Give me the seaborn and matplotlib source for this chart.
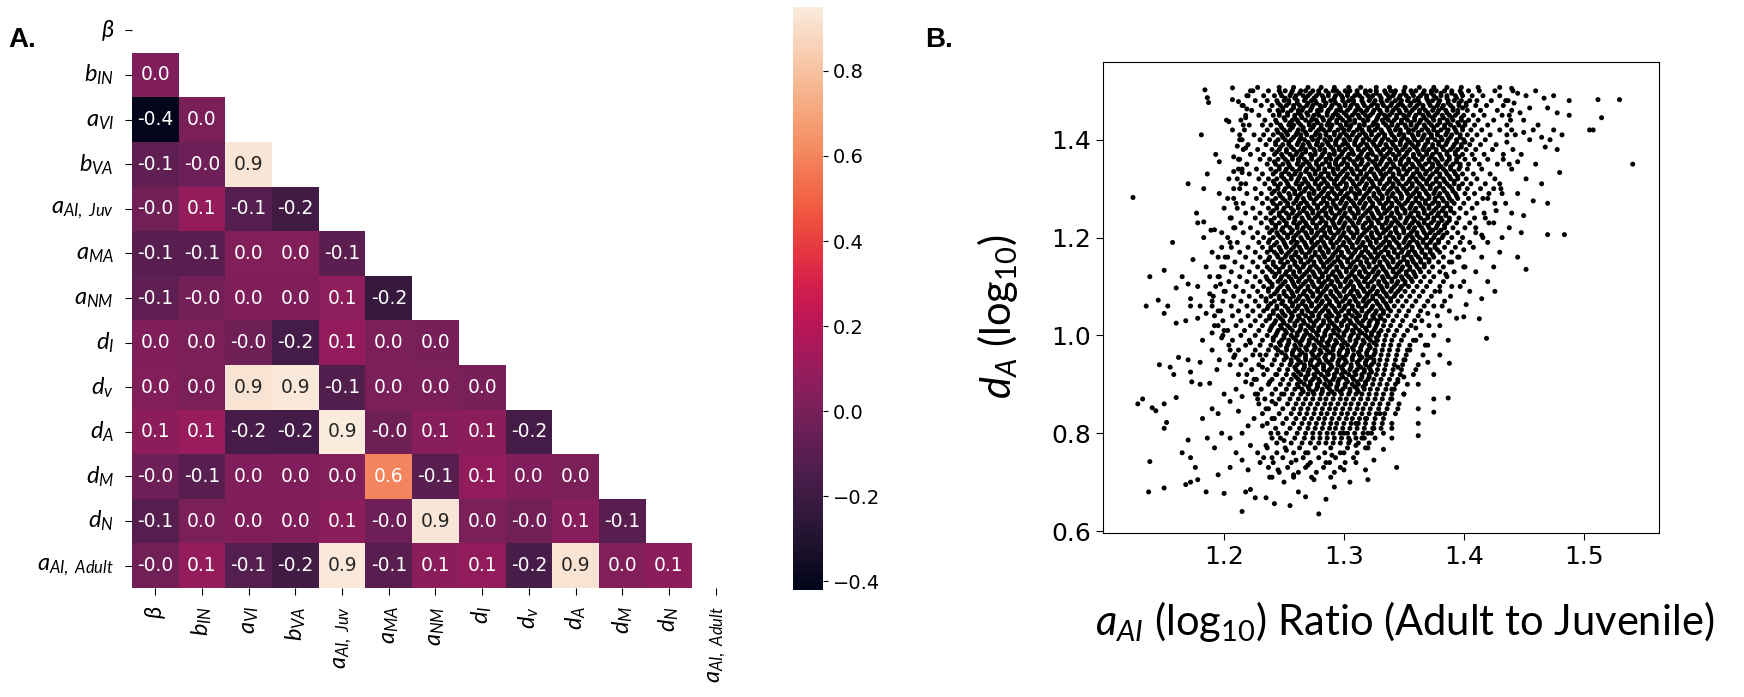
import numpy as np
import pandas as pd
import matplotlib
matplotlib.use("Agg")
import matplotlib.pyplot as plt
import seaborn as sns

plt.rcParams["mathtext.fontset"] = "custom"
plt.rcParams["mathtext.rm"] = "Lato"
plt.rcParams["mathtext.it"] = "Lato:italic"
plt.rcParams["mathtext.bf"] = "Lato:bold"

# ---------------- panel A: correlation of parameters ----------------
param_labels = [r"$\beta$", r"$b_{IN}$", r"$a_{VI}$", r"$b_{VA}$", r"$a_{AI,\ Juv}$",
                r"$a_{MA}$", r"$a_{NM}$", r"$d_{I}$", r"$d_{v}$", r"$d_{A}$",
                r"$d_{M}$", r"$d_{N}$", r"$a_{AI,\ Adult}$"]

# lower triangle, row by row (row i has i entries)
corr_lower = [
    [0.02],
    [-0.42, 0.01],
    [-0.08, -0.03, 0.93],
    [-0.02, 0.09, -0.12, -0.18],
    [-0.10, -0.10, 0.03, 0.03, -0.09],
    [-0.08, -0.01, 0.02, 0.02, 0.07, -0.22],
    [0.02, 0.01, -0.04, -0.17, 0.08, 0.01, 0.00],
    [0.03, 0.01, 0.92, 0.94, -0.13, 0.01, 0.01, 0.00],
    [0.06, 0.10, -0.16, -0.17, 0.95, -0.04, 0.05, 0.06, -0.17],
    [-0.03, -0.10, 0.02, 0.02, 0.03, 0.60, -0.10, 0.08, 0.02, 0.01],
    [-0.11, 0.01, 0.02, 0.02, 0.06, -0.03, 0.93, 0.01, -0.02, 0.05, -0.10],
    [-0.02, 0.09, -0.12, -0.18, 0.94, -0.10, 0.06, 0.08, -0.16, 0.92, 0.03, 0.06],
]

# ---------------- panel B: scatter of sampled parameters ----------------
# dense part of the cloud, one row per d_A level; ratio values in thousandths above 1
da_levels = [1.507, 1.50, 1.49, 1.48, 1.47, 1.46, 1.45, 1.44, 1.43, 1.42, 1.41, 1.40,
             1.39, 1.38, 1.37, 1.36, 1.35, 1.34, 1.33, 1.32, 1.31, 1.30, 1.29, 1.28,
             1.27, 1.26, 1.25, 1.24, 1.23, 1.22, 1.21, 1.20, 1.19, 1.18, 1.17, 1.16,
             1.15, 1.14, 1.13, 1.12, 1.11, 1.10, 1.09, 1.08, 1.07, 1.06, 1.05, 1.04,
             1.03, 1.02, 1.01, 1.00, 0.99, 0.98, 0.97, 0.96, 0.95, 0.94, 0.93, 0.92,
             0.91, 0.90, 0.89, 0.88, 0.87, 0.86, 0.85, 0.84, 0.83, 0.82, 0.81, 0.80,
             0.79, 0.78, 0.77, 0.76, 0.75, 0.74, 0.73, 0.72, 0.71]

ratio_rows = [
    [228,246,258,270,281,292,304,314,327,338,351,363,375,386,398,412,430],
    [224,237,246,251,257,264,268,274,279,285,291,294,301,305,311,318,322,327,334,339,343,350,356,360,367,373,377,384,390,397,404,413,426,441],
    [219,233,242,248,255,260,266,270,277,282,287,293,298,303,309,313,320,324,330,337,341,347,352,358,364,369,375,381,386,393,399,407,416,430],
    [226,236,244,250,254,261,267,273,276,283,289,292,299,304,308,315,321,326,331,336,343,348,353,359,362,370,374,380,387,392,398,405,411,423,437],
    [216,231,240,247,252,258,263,269,274,280,284,290,296,301,306,311,317,323,328,333,339,345,349,355,361,366,372,378,383,389,396,402,410,419,433],
    [223,238,245,249,256,262,265,272,278,281,287,294,297,303,310,314,319,325,330,336,341,346,352,357,363,368,374,379,385,391,395,403,414,428],
    [218,229,241,246,253,259,264,270,275,279,286,291,295,302,307,312,318,322,329,334,338,344,350,354,360,366,371,376,382,388,393,400,408,417,432],
    [214,234,243,251,257,261,268,273,277,283,288,294,299,305,309,316,320,327,332,337,342,348,353,359,364,369,375,380,386,391,398,404,412,425,439],
    [221,232,239,247,254,258,264,271,275,281,286,290,297,302,306,313,317,324,328,335,340,345,351,356,361,367,373,378,384,389,396,401,409,420],
    [217,236,244,250,255,262,266,272,279,283,288,295,300,304,311,315,321,326,331,338,343,347,354,358,365,370,375,381,387,393,399,406,415,430],
    [225,233,241,248,253,260,264,269,276,280,285,292,297,302,307,313,318,323,329,334,340,346,350,357,362,367,373,378,385,390,397,403,411,422,436],
    [213,230,238,245,251,256,263,267,274,278,284,289,294,300,305,310,316,321,326,332,337,343,348,353,359,365,370,376,382,387,394,400,407,418],
    [220,235,243,249,254,261,266,271,277,282,287,293,299,303,309,314,319,325,330,335,341,347,352,357,362,368,374,379,385,392,398,405,414,427],
    [216,228,240,246,252,258,264,268,275,280,284,291,296,301,306,312,317,322,328,333,339,344,349,355,361,366,371,377,383,389,395,402,410,424],
    [222,233,242,248,255,260,265,272,276,282,288,292,298,304,308,314,320,324,331,336,341,346,352,358,363,369,374,380,386,393,399,407,417,433],
    [212,230,238,245,251,257,262,267,273,279,285,289,294,300,305,311,315,321,327,332,338,343,348,354,360,365,371,376,382,388,394,401,409,420],
    [219,236,243,249,254,261,266,271,277,282,288,293,298,303,309,314,320,326,330,336,341,347,352,357,363,368,374,379,385,391,397,404,413,428],
    [215,227,239,246,252,257,263,269,274,279,284,291,295,301,306,311,317,323,328,333,339,345,350,355,361,366,372,378,383,389,396,403,415],
    [221,232,241,248,254,259,264,271,276,281,287,292,297,303,308,314,319,325,331,335,341,346,352,358,363,368,374,380,386,393,399,408,422],
    [211,229,237,244,250,256,262,267,273,278,283,289,294,300,305,311,316,321,327,332,338,343,349,355,360,366,371,377,383,389,395,402,411,426],
    [218,234,242,247,253,260,265,270,276,281,286,292,297,302,308,313,319,324,330,336,341,346,352,357,363,369,374,380,386,392,399,406,418],
    [213,226,238,245,251,257,263,268,273,279,284,290,295,301,306,311,317,322,328,333,339,344,350,355,361,366,372,377,383,390,396,403,414,431],
    [219,231,240,246,254,259,264,271,275,281,287,292,297,303,309,313,319,325,330,336,341,347,353,358,363,369,375,380,386,393,401,409,421],
    [208,227,236,243,249,255,261,266,272,277,283,288,294,299,304,310,316,321,327,332,337,343,348,354,360,365,371,376,382,388,395,404,416],
    [216,232,241,247,253,258,264,269,275,281,286,291,297,302,308,313,318,324,330,335,340,346,351,357,363,368,374,379,386,392,400,411,426],
    [211,224,237,244,250,256,262,267,272,278,284,289,294,300,305,311,316,322,327,333,338,344,349,355,360,366,371,377,383,389,397,407],
    [218,230,239,246,252,257,263,269,274,279,285,290,296,301,307,312,318,323,329,334,340,345,351,356,362,367,373,379,385,392,402,417],
    [206,226,235,242,248,254,259,265,271,276,281,287,292,298,303,309,314,320,325,331,336,342,347,353,358,364,370,375,381,388,396,409],
    [214,231,240,246,252,258,263,268,274,280,285,291,296,301,307,312,318,323,329,335,340,345,351,357,362,367,373,379,386,394,405,421],
    [209,222,236,243,249,255,261,266,271,277,283,288,293,299,304,310,316,321,326,332,337,343,349,354,359,365,371,377,384,391,401],
    [216,228,238,244,250,256,262,268,273,278,284,289,295,300,306,311,317,323,328,333,339,344,350,356,361,367,372,379,386,395,410],
    [203,224,233,241,247,253,258,264,270,275,281,286,291,297,302,308,313,319,324,330,335,341,346,352,357,363,369,375,382,390,399,416],
    [211,229,237,244,250,256,261,267,273,278,283,289,294,300,305,311,316,322,327,333,338,344,350,355,361,366,372,379,387,397],
    [206,220,232,239,246,252,258,263,269,274,280,285,291,296,302,307,313,318,324,329,335,340,346,352,357,363,369,376,384,393,408],
    [213,226,236,242,248,254,260,265,271,276,282,287,293,298,304,309,315,320,326,331,337,342,348,354,359,365,372,380,390],
    [201,218,230,238,245,251,256,262,268,273,279,284,290,295,300,306,312,317,323,328,333,339,345,350,356,362,368,375,383,396],
    [209,224,234,241,247,253,259,264,270,275,281,286,292,297,303,308,314,319,325,330,336,341,347,353,358,364,371,379,388],
    [198,215,228,236,243,249,255,261,266,272,277,283,288,294,299,305,310,316,321,327,332,338,344,349,355,361,367,374,383,401],
    [206,221,232,240,246,252,258,263,269,274,280,285,291,296,302,307,313,318,324,329,335,341,346,352,358,364,371,380,392],
    [196,213,226,235,242,248,254,260,265,271,276,282,287,293,298,304,309,315,320,326,332,337,343,348,354,360,367,375,386],
    [204,219,230,238,245,251,257,262,268,273,279,284,290,295,301,306,312,317,323,329,334,340,345,351,357,364,372,383],
    [193,210,224,233,240,247,253,259,264,270,275,281,286,292,297,303,308,314,320,325,331,336,342,348,354,361,369,380,397],
    [201,216,228,237,244,250,256,261,267,272,278,283,289,294,300,306,311,317,322,328,333,339,345,351,358,366,376],
    [191,208,221,231,239,246,252,258,263,269,274,280,285,291,297,302,308,313,319,324,330,336,342,348,355,363,373,389],
    [199,214,226,235,242,249,255,260,266,271,277,282,288,294,299,305,310,316,321,327,333,339,345,352,360,370],
    [190,206,219,229,237,244,251,257,262,268,273,279,285,290,296,301,307,312,318,324,330,336,342,349,357,367,382],
    [197,212,224,233,241,248,254,259,265,270,276,282,287,293,298,304,309,315,321,327,333,339,346,354,364],
    [192,207,220,230,238,245,251,257,262,268,274,279,285,290,296,301,307,313,318,324,330,337,344,352,362,378],
    [199,214,226,235,243,249,255,261,266,272,277,283,288,294,300,305,311,316,322,328,334,341,349,359],
    [195,210,222,232,240,247,253,259,264,270,275,281,287,292,298,303,309,315,321,327,333,339,347,356,371],
    [203,217,229,238,245,251,257,263,268,274,279,285,291,296,302,307,313,319,325,331,337,344,353],
    [199,214,226,236,243,250,256,261,267,272,278,284,289,295,300,306,312,318,323,329,335,342,350,364],
    [207,221,232,241,248,254,260,265,271,277,282,288,293,299,305,310,316,322,328,334,340,348,358],
    [204,218,230,239,247,253,259,264,270,275,281,287,292,298,303,309,315,321,327,333,339,346,355,370],
    [212,226,237,245,252,258,263,269,275,280,286,291,297,303,308,314,320,326,332,338,345,353],
    [209,224,235,244,251,257,263,268,274,279,285,291,296,302,308,313,319,325,331,337,344,352,366],
    [218,232,242,250,256,262,268,273,279,285,290,296,301,307,313,319,325,330,336,343,351],
    [214,229,240,248,255,261,267,272,278,283,289,295,300,306,312,318,323,329,335,342,349,362],
    [223,236,246,253,260,266,271,277,283,288,294,299,305,311,317,322,328,334,341,348],
    [219,233,244,252,258,264,270,275,281,287,292,298,304,310,315,321,327,333,340,347,358],
    [227,240,249,256,262,268,274,279,285,291,296,302,308,314,320,325,331,338,345],
    [223,237,247,254,261,267,272,278,284,289,295,301,307,312,318,324,330,336,343,353],
    [231,243,252,259,265,271,277,282,288,294,299,305,311,317,322,328,335,342],
    [226,240,250,257,264,270,275,281,287,292,298,304,310,315,321,327,333,340,350],
    [234,246,255,262,268,274,280,285,291,297,302,308,314,320,326,332,339],
    [229,243,253,260,266,272,278,284,289,295,301,306,312,318,324,330,337,346],
    [237,249,258,264,270,276,282,288,293,299,305,311,316,322,329,336],
    [232,246,256,263,269,275,281,286,292,298,303,309,315,321,327,334,343],
    [240,252,260,267,273,279,284,290,296,302,307,313,319,326,333],
    [236,249,258,265,271,277,283,289,294,300,306,312,318,325,332,340],
    [243,255,263,270,276,282,288,293,299,305,311,317,324,331],
    [239,252,261,268,274,280,286,291,297,303,309,316,323,333],
    [247,259,267,274,280,286,292,298,304,310,317,326],
    [244,256,265,272,279,285,291,297,304,312,321],
    [236,251,263,276,289,303,318],
    [244,258,270,284,297,311],
    [233,249,266,279,293,308],
    [241,256,272,288,301],
    [237,253,268,283,297],
    [246,262,277,292],
    [240,258,273,289],
]

# extra points in between the rows where the cloud is densest
da_half_levels = [1.495, 1.485, 1.475, 1.465, 1.455, 1.445, 1.435, 1.425, 1.415, 1.405,
                  1.395, 1.385, 1.375, 1.365, 1.355, 1.345, 1.335, 1.325, 1.315, 1.305,
                  1.295, 1.285, 1.275, 1.265, 1.255, 1.245, 1.235, 1.225, 1.215, 1.205,
                  1.195, 1.185, 1.175, 1.165, 1.155, 1.145, 1.135, 1.125, 1.115, 1.105,
                  1.095, 1.085, 1.075, 1.065, 1.055, 1.045, 1.035, 1.025, 1.015, 1.005,
                  0.995, 0.985, 0.975, 0.965, 0.955, 0.945, 0.935, 0.925, 0.915, 0.905,
                  0.895, 0.885]

ratio_half_rows = [
    [247,256,263,272,279,287,296,303,311,318,327,335,342,350,357,366,373,381,390,398],
    [251,259,268,275,283,292,299,307,315,322,331,338,346,354,362,369,377,386,394],
    [245,254,261,270,277,285,293,301,308,316,325,332,340,347,356,363,371,379,387,396,402],
    [249,258,266,273,281,289,297,305,312,320,328,336,343,351,359,366,375,382,391,399],
    [246,253,262,269,278,286,293,300,309,316,324,331,340,347,355,363,370,378,386,395],
    [250,259,265,274,282,290,297,304,313,320,328,335,344,351,359,367,374,383,390,398],
    [244,255,262,271,278,287,294,302,309,317,325,333,340,348,356,363,371,380,387,395,401],
    [248,257,266,274,281,289,298,305,313,321,328,337,344,352,360,368,375,384,392,399],
    [245,252,261,268,277,285,292,300,308,316,323,332,339,347,354,362,371,378,386,394],
    [249,258,264,273,280,288,296,304,311,319,327,334,342,350,358,366,373,381,389,397],
    [243,254,262,270,278,286,293,301,309,316,324,331,340,347,355,362,370,379,386,394,401],
    [247,256,265,272,280,289,296,304,312,320,327,336,343,351,359,367,374,382,391,398],
    [244,252,261,268,276,284,292,299,307,315,323,330,338,346,353,362,369,377,386,393],
    [249,257,264,273,281,288,296,303,312,319,327,334,343,350,358,366,373,381,388,396],
    [242,253,262,269,277,285,293,300,308,315,324,331,339,347,354,362,371,378,386,394],
    [246,255,264,272,279,288,295,303,311,318,327,335,342,350,358,365,374,381,389,397],
    [243,251,260,268,276,284,291,299,307,314,322,330,338,346,353,361,369,377,385,392],
    [248,256,263,272,280,287,295,302,311,318,326,333,341,349,357,364,372,380,388,395],
    [241,252,261,268,276,284,292,299,307,315,323,330,338,345,354,361,369,377,384,392],
    [245,254,263,271,279,287,294,302,310,318,325,334,341,349,357,365,372,380,388,396],
    [242,250,259,267,275,283,290,298,306,313,321,329,337,345,352,360,368,376,384,391],
    [247,255,262,271,279,286,294,301,310,317,325,332,340,348,356,363,371,379,387,394],
    [240,251,260,267,275,283,291,298,306,314,322,329,337,344,353,360,368,376,383,390],
    [244,253,262,270,278,286,293,301,309,317,324,333,340,348,356,364,371,379,386],
    [241,249,258,266,274,282,289,297,305,312,320,328,336,344,351,359,367,375,382,389],
    [246,254,261,270,278,285,293,300,309,316,324,331,339,347,355,362,370,378,385],
    [239,250,259,266,274,282,290,297,305,313,321,328,336,343,352,359,367,375,382,388],
    [243,252,261,269,277,285,292,300,308,316,323,332,339,347,355,363,370,378,384],
    [240,248,257,265,273,281,288,296,304,311,319,327,335,343,350,358,366,374,381],
    [245,253,260,269,277,284,292,299,308,315,323,330,338,346,354,361,369,376,383],
    [238,249,258,265,273,281,289,296,304,312,320,327,335,342,351,358,366,373,379],
    [242,251,260,268,276,284,291,299,307,315,322,331,338,346,354,362,369,376],
    [239,247,256,264,272,280,287,295,303,310,318,326,334,342,349,357,365,372,378],
    [244,252,259,268,276,283,291,298,307,314,322,329,337,345,353,360,368,374],
    [237,248,257,264,272,280,288,295,303,311,319,326,334,341,350,357,364,371],
    [241,250,259,267,275,283,290,298,306,314,321,330,337,345,353,360,367],
    [238,246,255,263,271,279,286,294,302,309,317,325,333,341,348,355,363],
    [243,251,258,267,275,282,290,297,306,313,321,328,336,344,352,359],
    [236,247,256,263,271,279,287,294,302,310,318,325,333,340,349,356],
    [240,249,258,266,274,282,289,297,305,313,320,329,336,344,351],
    [237,245,254,262,270,278,285,293,301,308,316,324,332,340,347],
    [242,250,257,266,274,281,289,296,305,312,320,327,335,343],
    [235,246,255,262,270,278,286,293,301,309,317,324,332,339],
    [239,248,257,265,273,281,288,296,304,312,319,328,335],
    [236,244,253,261,269,277,284,292,300,307,315,323,331,337],
    [241,249,256,265,273,280,288,295,304,311,319,326,333],
    [238,247,256,263,271,279,287,294,302,310,318,325,331],
    [242,250,259,267,275,283,290,298,306,313,321,328],
    [239,248,255,264,272,279,287,294,303,310,318,326],
    [244,252,261,269,277,284,292,300,308,315,323,329],
    [241,250,258,266,274,282,289,297,305,312,320,327],
    [246,254,263,271,279,286,294,301,310,317,325],
    [243,252,260,268,276,284,291,299,307,314,322],
    [248,257,265,273,281,288,296,303,312,319,326],
    [252,260,268,276,284,291,299,307,315,322],
    [256,264,272,280,287,295,302,311,318,325],
    [259,267,275,283,290,298,306,314,321],
    [262,270,278,286,294,301,309,317,323],
    [260,268,276,284,292,299,307,315,321],
    [264,272,280,288,295,303,311,318],
    [262,270,278,286,294,301,309,316],
    [266,274,282,290,297,305,312],
]

# scattered points around the dense part (ratio, d_A)
tail_points = [
    (1.184, 1.502), (1.186, 1.486), (1.187, 1.476), (1.207, 1.506), (1.207, 1.482), (1.212, 1.478),
    (1.215, 1.470), (1.219, 1.463), (1.181, 1.410), (1.202, 1.440), (1.204, 1.437), (1.207, 1.420),
    (1.193, 1.370), (1.196, 1.355), (1.211, 1.387), (1.218, 1.383), (1.170, 1.310), (1.186, 1.330),
    (1.183, 1.300), (1.208, 1.335), (1.212, 1.340), (1.215, 1.333), (1.124, 1.282), (1.177, 1.250),
    (1.178, 1.230), (1.183, 1.232), (1.183, 1.200), (1.189, 1.215), (1.192, 1.216), (1.157, 1.190),
    (1.174, 1.155), (1.150, 1.133), (1.138, 1.120), (1.165, 1.120), (1.170, 1.105), (1.160, 1.097),
    (1.196, 1.290), (1.200, 1.260), (1.198, 1.180), (1.190, 1.170), (1.185, 1.140), (1.195, 1.120),
    (1.178, 1.100), (1.188, 1.085), (1.172, 1.075), (1.180, 1.060), (1.135, 1.060), (1.145, 1.072),
    (1.150, 1.045), (1.153, 1.060), (1.172, 1.060), (1.168, 1.030), (1.178, 1.035), (1.185, 1.045),
    (1.160, 1.025), (1.162, 0.955), (1.170, 0.950), (1.180, 0.945), (1.146, 0.940), (1.155, 0.935),
    (1.158, 0.920), (1.172, 0.925), (1.173, 0.905), (1.180, 0.900), (1.188, 0.902), (1.196, 0.950),
    (1.190, 0.970), (1.205, 0.970), (1.194, 0.930), (1.132, 0.870), (1.128, 0.860), (1.140, 0.852),
    (1.143, 0.846), (1.150, 0.860), (1.160, 0.873), (1.152, 0.822), (1.150, 0.810), (1.170, 0.786),
    (1.138, 0.742), (1.137, 0.680), (1.150, 0.688), (1.165, 0.760), (1.172, 0.750), (1.176, 0.730),
    (1.178, 0.705), (1.172, 0.700), (1.168, 0.695), (1.182, 0.830), (1.190, 0.850), (1.195, 0.840),
    (1.198, 0.800), (1.205, 0.790), (1.186, 0.790), (1.192, 0.770), (1.210, 0.760), (1.215, 0.745),
    (1.205, 0.730), (1.195, 0.715), (1.185, 0.680), (1.200, 0.677), (1.218, 0.680), (1.222, 0.685),
    (1.215, 0.640), (1.226, 0.668), (1.235, 0.668), (1.242, 0.656), (1.255, 0.652), (1.279, 0.635),
    (1.262, 0.680), (1.268, 0.670), (1.285, 0.665), (1.292, 0.690), (1.305, 0.700), (1.320, 0.705),
    (1.250, 0.700), (1.238, 0.710), (1.245, 0.725), (1.258, 0.715), (1.275, 0.705), (1.300, 0.725),
    (1.310, 0.740), (1.318, 0.725), (1.325, 0.745), (1.230, 0.740), (1.220, 0.725), (1.228, 0.760),
    (1.240, 0.750), (1.260, 0.745), (1.270, 0.735), (1.285, 0.740), (1.290, 0.755), (1.300, 0.760),
    (1.268, 0.760), (1.252, 0.765), (1.235, 0.775), (1.222, 0.775), (1.310, 0.775), (1.320, 0.770),
    (1.305, 0.785), (1.215, 0.800), (1.220, 0.815), (1.225, 0.830), (1.212, 0.845), (1.205, 0.865),
    (1.215, 0.875), (1.210, 0.890), (1.200, 0.880), (1.218, 0.905), (1.212, 0.920), (1.205, 0.940),
    (1.208, 0.955), (1.198, 0.995), (1.200, 1.010), (1.192, 1.020), (1.190, 1.005), (1.182, 0.990),
    (1.195, 1.050), (1.190, 1.070), (1.200, 1.090), (1.197, 1.105), (1.188, 1.120), (1.200, 1.140),
    (1.203, 1.160), (1.195, 1.160), (1.205, 1.190), (1.198, 1.210), (1.208, 1.220), (1.205, 1.240),
    (1.210, 1.270), (1.203, 1.280), (1.208, 1.300), (1.214, 1.310), (1.204, 1.320), (1.213, 1.360),
    (1.208, 1.365), (1.215, 1.400), (1.213, 1.410), (1.216, 1.430), (1.218, 1.445), (1.220, 1.490),
    (1.222, 1.500), (1.232, 0.935), (1.238, 0.905), (1.228, 0.880), (1.240, 0.865), (1.235, 0.850),
    (1.242, 0.830), (1.232, 0.815), (1.245, 0.800), (1.250, 0.785), (1.240, 0.790), (1.225, 0.910),
    (1.230, 0.960), (1.222, 0.985), (1.228, 0.870), (1.248, 0.880), (1.243, 0.920),
    (1.440, 1.505), (1.445, 1.495), (1.452, 1.490), (1.460, 1.500), (1.467, 1.485), (1.475, 1.490),
    (1.488, 1.480), (1.488, 1.450), (1.470, 1.465), (1.478, 1.455), (1.512, 1.482), (1.530, 1.482),
    (1.515, 1.445), (1.508, 1.420), (1.505, 1.420), (1.541, 1.350), (1.480, 1.333), (1.470, 1.206),
    (1.484, 1.206), (1.452, 1.135), (1.426, 1.090), (1.440, 1.460), (1.450, 1.440), (1.462, 1.430),
    (1.475, 1.420), (1.482, 1.410), (1.440, 1.420), (1.455, 1.400), (1.468, 1.385), (1.478, 1.380),
    (1.448, 1.370), (1.460, 1.350), (1.440, 1.340), (1.452, 1.320), (1.465, 1.310), (1.430, 1.310),
    (1.445, 1.290), (1.458, 1.275), (1.470, 1.270), (1.435, 1.270), (1.440, 1.250), (1.450, 1.245),
    (1.425, 1.230), (1.438, 1.220), (1.448, 1.210), (1.432, 1.200), (1.420, 1.190), (1.430, 1.170),
    (1.445, 1.160), (1.415, 1.160), (1.425, 1.140), (1.410, 1.130), (1.420, 1.110), (1.400, 1.110),
    (1.405, 1.090), (1.415, 1.075), (1.402, 1.063), (1.394, 1.035), (1.400, 1.038), (1.413, 1.034),
    (1.388, 1.050), (1.380, 1.020), (1.419, 0.994), (1.387, 0.990), (1.375, 1.000), (1.368, 0.980),
    (1.380, 0.960), (1.388, 0.943), (1.370, 0.945), (1.360, 0.930), (1.375, 0.920), (1.350, 0.915),
    (1.362, 0.900), (1.387, 0.872), (1.375, 0.870), (1.375, 0.843), (1.362, 0.850), (1.350, 0.880),
    (1.340, 0.870), (1.345, 0.850), (1.330, 0.840), (1.362, 0.820), (1.362, 0.795), (1.340, 0.810),
    (1.340, 0.790), (1.333, 0.767), (1.344, 0.730), (1.325, 0.810), (1.318, 0.830), (1.320, 0.800),
    (1.310, 0.820), (1.300, 0.800), (1.315, 0.790), (1.435, 1.480), (1.442, 1.475), (1.438, 1.450),
    (1.447, 1.455), (1.455, 1.465), (1.436, 1.430), (1.443, 1.410), (1.450, 1.415), (1.458, 1.420),
    (1.465, 1.405), (1.472, 1.400), (1.436, 1.395), (1.441, 1.380), (1.433, 1.360), (1.438, 1.350),
    (1.445, 1.355), (1.425, 1.300), (1.432, 1.290), (1.420, 1.280), (1.427, 1.255), (1.418, 1.240),
    (1.410, 1.220), (1.415, 1.205), (1.405, 1.190), (1.400, 1.175), (1.395, 1.160), (1.390, 1.150),
    (1.400, 1.140), (1.385, 1.125), (1.390, 1.100), (1.380, 1.090), (1.384, 1.070), (1.375, 1.060),
    (1.370, 1.045), (1.365, 1.030), (1.360, 1.015), (1.360, 0.990), (1.355, 0.970), (1.350, 0.950),
    (1.345, 0.935), (1.345, 0.905), (1.340, 0.890),
]

# ---- build tables ----
n = len(param_labels)
corr = np.eye(n)
for i, row in enumerate(corr_lower, start=1):
    for j, v in enumerate(row):
        corr[i, j] = v
        corr[j, i] = v
corr_df = pd.DataFrame(corr, index=param_labels, columns=param_labels)
mask = np.triu(np.ones_like(corr, dtype=bool))

xs, ys = [], []
for levels, rows in [(da_levels, ratio_rows), (da_half_levels, ratio_half_rows)]:
    for lvl, row in zip(levels, rows):
        for v in row:
            xs.append(1 + v / 1000)
            ys.append(lvl)
for px, py in tail_points:
    xs.append(px)
    ys.append(py)
scatter_df = pd.DataFrame({"ratio": xs, "d_A": ys})

# ---- figure ----
fig = plt.figure(figsize=(17.44, 6.97), dpi=100)

ax_h = fig.add_axes([0.0757, 0.1564, 0.348, 0.832])
cax = fig.add_axes([0.4547, 0.1535, 0.0172, 0.8364])
sns.heatmap(corr_df, mask=mask, cmap="rocket", annot=True, fmt=".1f",
            annot_kws={"size": 13.5}, ax=ax_h, cbar_ax=cax)
ax_h.set_yticklabels(param_labels, rotation=0, fontsize=17)
ax_h.set_xticklabels(param_labels, rotation=90, fontsize=17)
ax_h.tick_params(axis="both", length=5, pad=8)
cax.tick_params(labelsize=14)

ax_s = fig.add_axes([0.6325, 0.2353, 0.3188, 0.6758])
sns.scatterplot(data=scatter_df, x="ratio", y="d_A", color="black", s=13,
                linewidth=0, edgecolor="none", ax=ax_s)
ax_s.set_xlim(1.099, 1.563)
ax_s.set_ylim(0.596, 1.559)
ax_s.set_xticks([1.2, 1.3, 1.4, 1.5])
ax_s.set_yticks([0.6, 0.8, 1.0, 1.2, 1.4])
ax_s.tick_params(labelsize=18, length=5)
ax_s.set_xlabel(r"$a_{AI}$ (log$_{10}$) Ratio (Adult to Juvenile)", fontsize=30,
                family="Lato")
ax_s.set_ylabel(r"$d_A$ (log$_{10}$)", fontsize=30, family="Lato")
ax_s.xaxis.set_label_coords(0.543, -0.14)
ax_s.yaxis.set_label_coords(-0.15, 0.46)

fig.text(0.0046, 0.943, "A.", fontsize=20, fontweight="bold", family="Liberation Sans", va="center")
fig.text(0.5304, 0.943, "B.", fontsize=20, fontweight="bold", family="Liberation Sans", va="center")

fig.savefig("out.png", dpi=100)
